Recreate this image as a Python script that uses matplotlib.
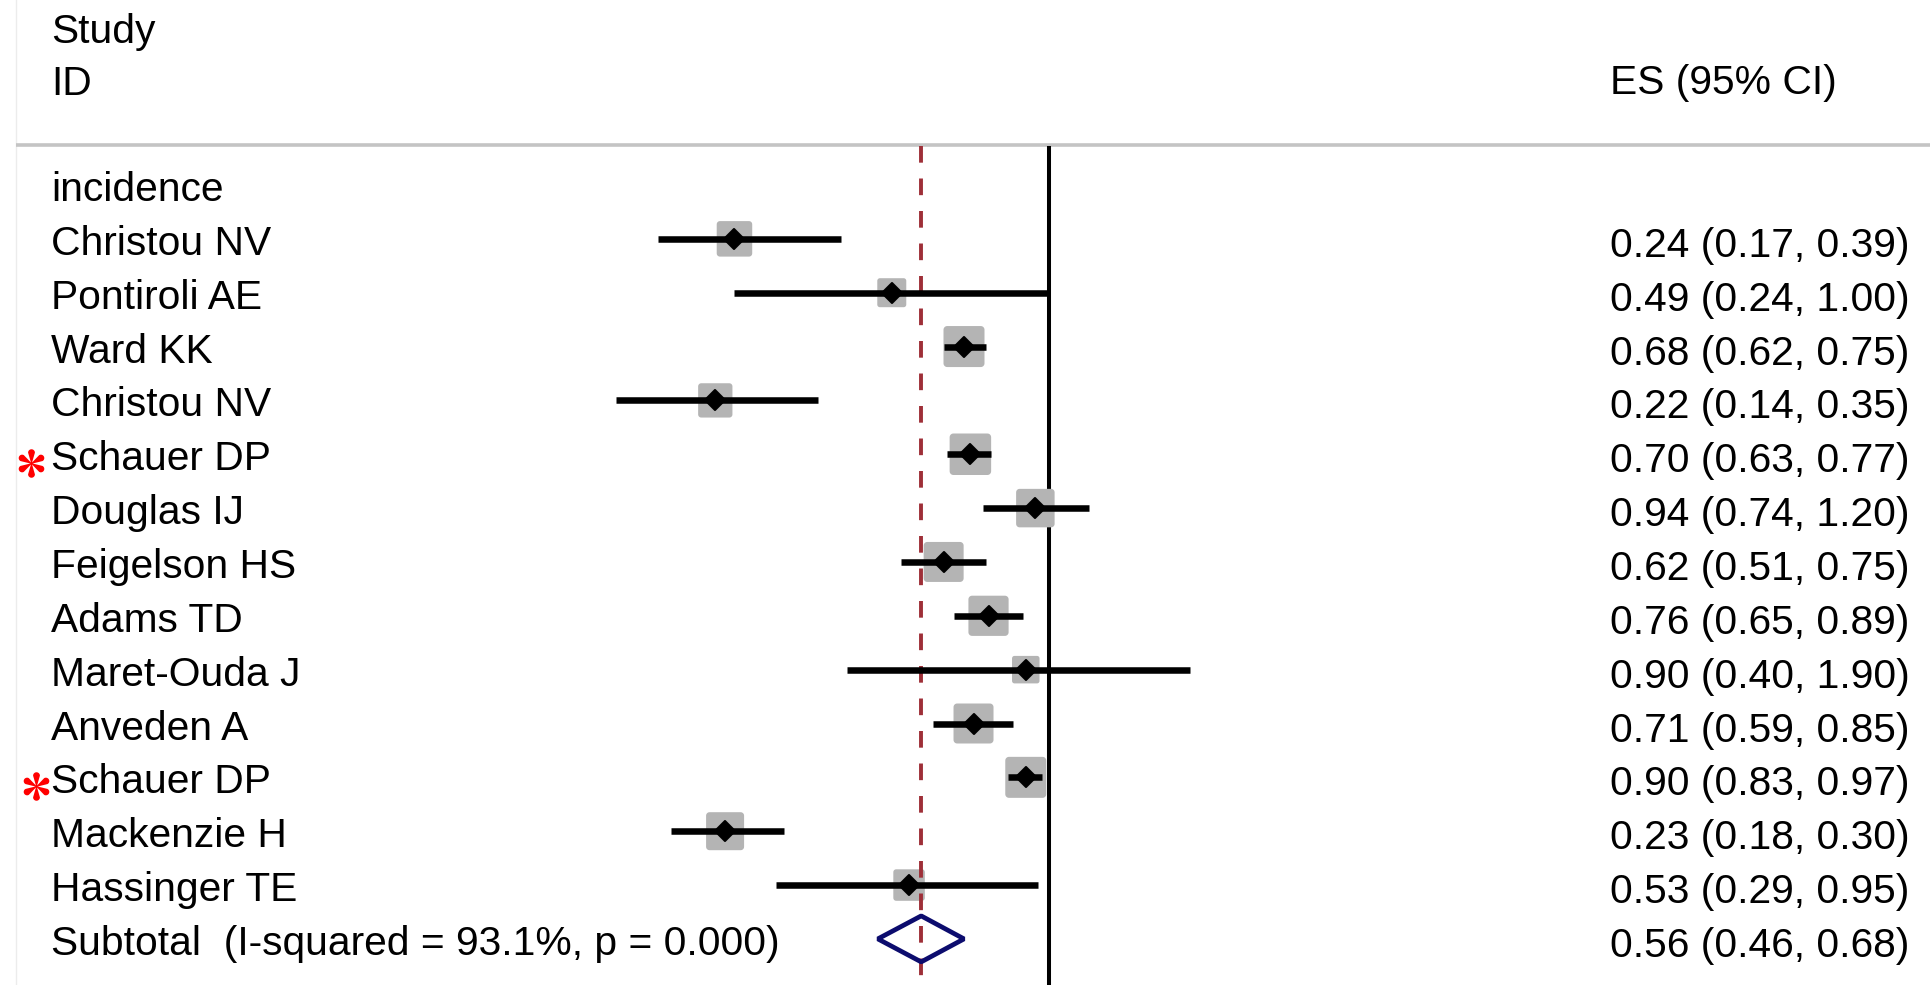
import numpy as np
import matplotlib
matplotlib.use("Agg")
import matplotlib.pyplot as plt
import matplotlib.transforms as mtransforms
from matplotlib.path import Path
from matplotlib.markers import MarkerStyle

# ---------------- data ----------------
studies = ["Christou NV", "Pontiroli AE", "Ward KK", "Christou NV", "Schauer DP",
           "Douglas IJ", "Feigelson HS", "Adams TD", "Maret-Ouda J", "Anveden A",
           "Schauer DP", "Mackenzie H", "Hassinger TE"]
es = [0.24, 0.49, 0.68, 0.22, 0.70, 0.94, 0.62, 0.76, 0.90, 0.71, 0.90, 0.23, 0.53]
ci_low = [0.17, 0.24, 0.62, 0.14, 0.63, 0.74, 0.51, 0.65, 0.40, 0.59, 0.83, 0.18, 0.29]
ci_high = [0.39, 1.00, 0.75, 0.35, 0.77, 1.20, 0.75, 0.89, 1.90, 0.85, 0.97, 0.30, 0.95]
weights = [7.06, 4.71, 9.42, 6.59, 9.65, 8.30, 8.96, 9.05, 4.24, 8.96, 9.42, 8.09, 5.56]
marked = [False, False, False, False, True, False, False, False, False, False, True, False, False]
group_label = "incidence"
pooled_es, pooled_low, pooled_high = 0.56, 0.46, 0.68
i_squared, p_value = 93.1, 0.000

# ---------------- layout ----------------
W, H, DPI = 1931, 985, 100
X0, B = 1049.0, 220.4          # pixel of ES=1, pixels per ln unit
ROW0, DY = 185.0, 53.85        # pixel of row 0, row spacing

plt.rcParams['font.family'] = ['Liberation Sans', 'DejaVu Sans']
FS = 29.3

fig = plt.figure(figsize=(W / DPI, H / DPI), dpi=DPI)
fig.patch.set_facecolor('white')
ax = fig.add_axes([0, 0, 1, 1])
ax.set_xscale('log')
ax.set_xlim(np.exp(-X0 / B), np.exp((W - X0) / B))
ax.set_ylim((H - ROW0) / DY, -ROW0 / DY)
ax.axis('off')

blend = mtransforms.blended_transform_factory(ax.transAxes, ax.transData)


def prow(p):
    return (p - ROW0) / DY


def px(d):
    return d / DY


n = len(studies)
rows = np.arange(1, n + 1)
sub_row = n + 1
y_bottom = (H - ROW0) / DY
y_top_lines = prow(146)

# faint left border and header rule
ax.plot([16 / W, 16 / W], [-ROW0 / DY, y_bottom], transform=blend,
        color='#ececec', lw=1.0, zorder=0)
ax.plot([16 / W, 1.0], [prow(145), prow(145)], transform=blend,
        color='#c4c4c4', lw=2.6, zorder=1, solid_capstyle='butt')

# no-effect line
ax.vlines(1.0, y_top_lines, y_bottom, color='black', lw=2.9, zorder=1)

# weight boxes (rounded squares)
def rounded_square(rad=0.09, k=8):
    verts = []
    for cx, cy, a0 in [(0.5 - rad, 0.5 - rad, 0), (-0.5 + rad, 0.5 - rad, 90),
                       (-0.5 + rad, -0.5 + rad, 180), (0.5 - rad, -0.5 + rad, 270)]:
        for t in np.radians(np.linspace(a0, a0 + 90, k)):
            verts.append((cx + rad * np.cos(t), cy + rad * np.sin(t)))
    verts.append(verts[0])
    codes = [Path.MOVETO] + [Path.LINETO] * (len(verts) - 2) + [Path.CLOSEPOLY]
    return Path(np.array(verts), codes)


box_side_pt = np.sqrt(np.array(weights) * 178.5) * 72 / DPI
ax.scatter(es, rows, s=box_side_pt ** 2, marker=rounded_square(),
           color='#b4b4b4', linewidths=0, zorder=2)

# pooled estimate dashed line
RLW = 2.8
ax.plot([pooled_es, pooled_es], [y_top_lines, y_bottom], color='#9e2f38',
        lw=RLW, linestyle=(0, (12.0 / RLW, 11.4 / RLW)), zorder=3)

# confidence intervals
ax.hlines(rows, ci_low, ci_high, color='black', lw=4.7, zorder=4, capstyle='butt')

# point estimates
ax.plot(es, rows, linestyle='none', marker=MarkerStyle('D', joinstyle='round'),
        markersize=10.4, markerfacecolor='black', markeredgecolor='black',
        markeredgewidth=1.5, zorder=5)

# pooled diamond
hh = px(23)
ax.fill([pooled_low, pooled_es, pooled_high, pooled_es],
        [sub_row, sub_row - hh, sub_row, sub_row + hh],
        facecolor='none', edgecolor='#0c0c6e', lw=3.4, joinstyle='bevel', zorder=4)

# ---------------- text ----------------
LX, RX = 51 / W, 1610 / W
off_l, off_r = px(16), px(18)

ax.text(LX, prow(43), "Study", transform=blend, fontsize=FS, va='baseline', ha='left')
ax.text(LX, prow(95), "ID", transform=blend, fontsize=FS, va='baseline', ha='left')
ax.text(RX, prow(94), "ES (95% CI)", transform=blend, fontsize=FS, va='baseline', ha='left')

ax.text(LX, 0 + off_l, group_label, transform=blend, fontsize=FS, va='baseline', ha='left')
for r, name, e, lo, hi in zip(rows, studies, es, ci_low, ci_high):
    ax.text(LX, r + off_l, name, transform=blend, fontsize=FS, va='baseline', ha='left')
    ax.text(RX, r + off_r, f"{e:.2f} ({lo:.2f}, {hi:.2f})", transform=blend,
            fontsize=FS, va='baseline', ha='left')

ax.text(LX, sub_row + off_l,
        f"Subtotal  (I-squared = {i_squared:.1f}%, p = {p_value:.3f})",
        transform=blend, fontsize=FS, va='baseline', ha='left')
ax.text(RX, sub_row + off_r, f"{pooled_es:.2f} ({pooled_low:.2f}, {pooled_high:.2f})",
        transform=blend, fontsize=FS, va='baseline', ha='left')


# red asterisks for marked studies
def teardrop_asterisk(n_arms=6, d=0.76, r=0.24, ri=0.08, k=14):
    verts = []
    for j in range(n_arms):
        th = np.pi / 2 + 2 * np.pi * j / n_arms
        a = th - np.pi / n_arms
        verts.append((ri * np.cos(a), ri * np.sin(a)))
        cx, cy = d * np.cos(th), d * np.sin(th)
        for t in np.linspace(th - np.pi / 2, th + np.pi / 2, k):
            verts.append((cx + r * np.cos(t), cy + r * np.sin(t)))
    verts.append(verts[0])
    codes = [Path.MOVETO] + [Path.LINETO] * (len(verts) - 2) + [Path.CLOSEPOLY]
    return Path(np.array(verts), codes)


star = teardrop_asterisk()
mk_rows = [r for r, m in zip(rows, marked) if m]
mk_x = [31 / W, 35.5 / W]
for xx, r in zip(mk_x, mk_rows):
    ax.plot([xx], [r + px(9)], transform=blend, linestyle='none', marker=star,
            markersize=20.5, color='#ff0000', markeredgewidth=0, zorder=6)

fig.savefig("out.png", dpi=DPI, facecolor='white')
